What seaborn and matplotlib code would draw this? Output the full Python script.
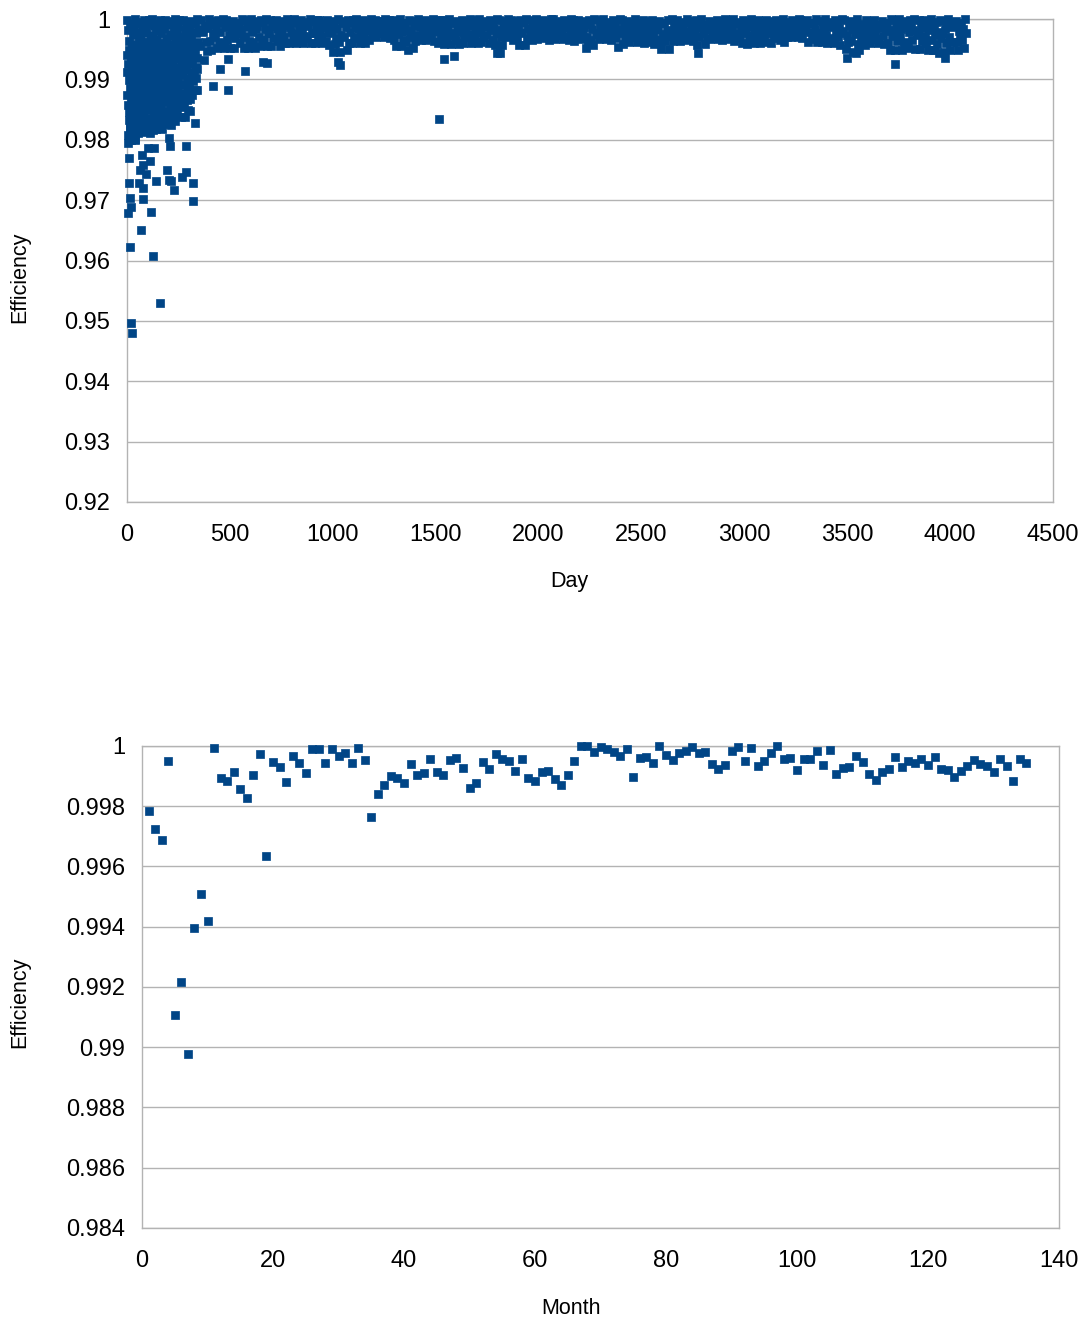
import numpy as np
import pandas as pd
import matplotlib
matplotlib.use('Agg')
import matplotlib.pyplot as plt
from matplotlib.ticker import FuncFormatter
import seaborn as sns

# ---------------- data ----------------
# Monthly efficiency, months 1..135 (bottom chart)
month_eff = [0.99783, 0.99723, 0.99689, 0.99950, 0.99107, 0.99216, 0.98978, 0.99396, 0.99510, 0.99420,
             0.99992, 0.99894, 0.99883, 0.99914, 0.99857, 0.99827, 0.99905, 0.99974, 0.99635, 0.99946,
             0.99929, 0.99880, 0.99968, 0.99945, 0.99909, 0.99989, 0.99989, 0.99945, 0.99990, 0.99967,
             0.99976, 0.99945, 0.99993, 0.99954, 0.99764, 0.99841, 0.99870, 0.99901, 0.99895, 0.99878,
             0.99941, 0.99904, 0.99909, 0.99957, 0.99915, 0.99904, 0.99953, 0.99961, 0.99928, 0.99860,
             0.99877, 0.99946, 0.99924, 0.99974, 0.99957, 0.99949, 0.99918, 0.99958, 0.99895, 0.99884,
             0.99914, 0.99916, 0.99889, 0.99870, 0.99903, 0.99951, 1.00000, 0.99999, 0.99981, 0.99998,
             0.99991, 0.99979, 0.99967, 0.99991, 0.99898, 0.99959, 0.99962, 0.99943, 0.99999, 0.99970,
             0.99954, 0.99978, 0.99984, 0.99996, 0.99978, 0.99980, 0.99941, 0.99924, 0.99936, 0.99984,
             0.99996, 0.99950, 0.99992, 0.99934, 0.99949, 0.99976, 1.00000, 0.99956, 0.99959, 0.99920,
             0.99958, 0.99956, 0.99984, 0.99938, 0.99987, 0.99908, 0.99928, 0.99929, 0.99967, 0.99946,
             0.99906, 0.99888, 0.99914, 0.99925, 0.99964, 0.99931, 0.99950, 0.99943, 0.99957, 0.99937,
             0.99962, 0.99923, 0.99919, 0.99898, 0.99917, 0.99934, 0.99954, 0.99939, 0.99935, 0.99913,
             0.99956, 0.99934, 0.99884, 0.99957, 0.99943]

# Daily efficiency (top chart), sampled: six days per 30-day block
band_offsets = [2, 7, 12, 17, 22, 27]
band_eff = [
    [0.9998, 0.9982, 0.9964, 0.9991, 0.9955, 0.9973],
    [0.9987, 1.0000, 0.9958, 0.9976, 0.9993, 0.9966],
    [0.9995, 0.9969, 0.9984, 0.9956, 0.9999, 0.9978],
    [0.9979, 0.9992, 0.9962, 0.9999, 0.9971, 0.9955],
    [1.0000, 0.9974, 0.9988, 0.9957, 0.9981, 0.9966],
    [0.9991, 0.9960, 0.9998, 0.9977, 0.9955, 0.9985],
    [0.9983, 0.9999, 0.9968, 0.9990, 0.9958, 0.9975],
    [0.9996, 0.9972, 0.9956, 0.9986, 1.0000, 0.9964],
    [0.9977, 0.9989, 0.9999, 0.9961, 0.9970, 0.9955],
    [0.9999, 0.9963, 0.9982, 0.9994, 0.9957, 0.9974],
    [0.9986, 0.9997, 0.9969, 0.9955, 0.9979, 0.9992],
    [0.9993, 0.9976, 1.0000, 0.9962, 0.9984, 0.9956],
    [0.9998, 0.9979, 0.9932, 0.9989, 0.9962, 0.9947],
    [0.9985, 1.0000, 0.9964, 0.9949, 0.9992, 0.9975],
    [0.9996, 0.9971, 0.9983, 0.9952, 0.9999, 0.9962],
    [0.9978, 0.9993, 0.9961, 1.0000, 0.9952, 0.9986],
    [0.9999, 0.9966, 0.9988, 0.9974, 0.9952, 0.9994],
    [0.9983, 0.9997, 0.9952, 0.9969, 0.9990, 0.9976],
    [0.9994, 0.9960, 0.9981, 1.0000, 0.9970, 0.9952],
    [0.9972, 0.9998, 0.9987, 0.9952, 0.9963, 0.9991],
    [1.0000, 0.9979, 0.9962, 0.9993, 0.9952, 0.9984],
    [0.9988, 0.9996, 0.9970, 0.9955, 0.9999, 0.9965],
    [0.9995, 0.9966, 0.9983, 1.0000, 0.9955, 0.9976],
    [0.9977, 0.9999, 0.9955, 0.9988, 0.9968, 0.9993],
    [0.9998, 0.9984, 0.9963, 0.9973, 0.9955, 0.9991],
    [0.9982, 0.9997, 0.9971, 0.9960, 0.9990, 1.0000],
    [0.9993, 0.9960, 0.9986, 0.9978, 0.9999, 0.9969],
    [1.0000, 0.9975, 0.9960, 0.9994, 0.9967, 0.9984],
    [0.9987, 0.9999, 0.9979, 0.9960, 0.9972, 0.9992],
    [0.9995, 0.9968, 0.9989, 1.0000, 0.9960, 0.9977],
    [0.9976, 0.9996, 0.9960, 0.9985, 0.9998, 0.9969],
    [0.9999, 0.9981, 0.9971, 0.9960, 0.9991, 0.9986],
    [0.9990, 0.9963, 0.9998, 0.9976, 0.9957, 0.9984],
    [0.9997, 0.9978, 0.9945, 0.9989, 0.9958, 0.9968],
    [0.9983, 1.0000, 0.9962, 0.9945, 0.9974, 0.9993],
    [0.9996, 0.9970, 0.9987, 0.9949, 0.9999, 0.9960],
    [0.9979, 0.9994, 0.9960, 0.9999, 0.9971, 0.9987],
    [1.0000, 0.9968, 0.9983, 0.9992, 0.9960, 0.9976],
    [0.9988, 0.9998, 0.9972, 0.9960, 0.9995, 0.9981],
    [0.9994, 0.9965, 0.9989, 1.0000, 0.9975, 0.9983],
    [0.9984, 0.9999, 0.9970, 0.9991, 0.9977, 0.9996],
    [0.9997, 0.9978, 0.9988, 0.9970, 1.0000, 0.9983],
    [0.9975, 0.9993, 0.9999, 0.9969, 0.9986, 0.9980],
    [0.9998, 0.9966, 0.9984, 0.9955, 0.9992, 0.9975],
    [0.9986, 1.0000, 0.9955, 0.9978, 0.9965, 0.9994],
    [0.9993, 0.9962, 0.9982, 0.9949, 0.9999, 0.9971],
    [0.9979, 0.9997, 0.9952, 0.9988, 0.9963, 0.9974],
    [1.0000, 0.9972, 0.9986, 0.9965, 0.9994, 0.9979],
    [0.9989, 0.9998, 0.9965, 0.9977, 0.9983, 0.9993],
    [0.9995, 0.9971, 0.9990, 1.0000, 0.9964, 0.9982],
    [0.9978, 0.9996, 0.9960, 0.9985, 0.9999, 0.9969],
    [0.9999, 0.9976, 0.9959, 0.9991, 0.9968, 0.9985],
    [0.9983, 1.0000, 0.9972, 0.9959, 0.9994, 0.9977],
    [0.9997, 0.9965, 0.9988, 0.9979, 0.9959, 0.9992],
    [0.9986, 0.9998, 0.9960, 0.9970, 0.9982, 0.9995],
    [0.9994, 0.9974, 0.9989, 1.0000, 0.9960, 0.9968],
    [0.9975, 0.9999, 0.9967, 0.9984, 0.9993, 0.9960],
    [1.0000, 0.9979, 0.9962, 0.9990, 0.9971, 0.9986],
    [0.9988, 0.9996, 0.9973, 0.9960, 0.9999, 0.9981],
    [0.9993, 0.9966, 0.9985, 0.9957, 0.9977, 1.0000],
    [0.9981, 0.9998, 0.9944, 0.9970, 0.9957, 0.9990],
    [0.9997, 0.9982, 0.9970, 0.9993, 1.0000, 0.9976],
    [0.9985, 0.9999, 0.9973, 0.9965, 0.9991, 0.9980],
    [0.9996, 0.9968, 0.9987, 0.9957, 0.9999, 0.9976],
    [0.9978, 0.9994, 0.9957, 1.0000, 0.9967, 0.9985],
    [0.9999, 0.9974, 0.9983, 0.9965, 0.9992, 0.9978],
    [0.9989, 1.0000, 0.9967, 0.9981, 0.9975, 0.9995],
    [0.9993, 0.9977, 0.9998, 0.9969, 0.9986, 0.9982],
    [0.9976, 0.9995, 0.9965, 0.9988, 1.0000, 0.9972],
    [1.0000, 0.9980, 0.9967, 0.9993, 0.9974, 0.9987],
    [0.9984, 0.9997, 0.9978, 0.9967, 0.9999, 0.9990],
    [0.9995, 0.9971, 0.9986, 0.9965, 0.9978, 1.0000],
    [0.9979, 0.9999, 0.9964, 0.9991, 0.9972, 0.9983],
    [0.9998, 0.9975, 0.9989, 0.9967, 0.9994, 0.9981],
    [0.9986, 0.9996, 0.9952, 0.9971, 0.9962, 0.9999],
    [0.9992, 0.9966, 0.9983, 0.9957, 1.0000, 0.9975],
    [0.9977, 0.9998, 0.9967, 0.9988, 0.9980, 0.9994],
    [1.0000, 0.9982, 0.9973, 0.9967, 0.9991, 0.9986],
    [0.9988, 0.9995, 0.9965, 0.9979, 0.9999, 0.9972],
    [0.9994, 0.9969, 0.9984, 0.9954, 0.9976, 1.0000],
    [0.9980, 0.9999, 0.9959, 0.9990, 0.9968, 0.9986],
    [0.9997, 0.9977, 0.9962, 0.9993, 0.9971, 0.9983],
    [0.9985, 1.0000, 0.9970, 0.9962, 0.9989, 0.9978],
    [0.9993, 0.9966, 0.9987, 0.9999, 0.9960, 0.9974],
    [0.9976, 0.9996, 0.9962, 0.9984, 0.9992, 0.9969],
    [0.9999, 0.9973, 0.9959, 0.9988, 0.9967, 0.9981],
    [0.9987, 0.9997, 0.9962, 0.9950, 0.9994, 0.9975],
    [0.9994, 0.9964, 0.9981, 0.9999, 0.9950, 0.9972],
    [0.9978, 1.0000, 0.9964, 0.9989, 0.9970, 0.9985],
    [0.9998, 0.9975, 0.9986, 0.9964, 0.9993, 0.9980],
    [0.9984, 0.9995, 0.9970, 0.9965, 1.0000, 0.9979],
    [0.9996, 0.9969, 0.9988, 0.9976, 0.9964, 0.9991],
    [0.9981, 0.9999, 0.9957, 0.9944, 0.9970, 0.9987],
    [1.0000, 0.9976, 0.9990, 0.9959, 0.9983, 0.9968],
    [0.9989, 0.9997, 0.9967, 0.9981, 0.9994, 0.9975],
    [0.9993, 0.9972, 0.9985, 0.9999, 0.9967, 0.9978],
    [0.9977, 0.9996, 0.9965, 0.9989, 0.9973, 1.0000],
    [0.9999, 0.9981, 0.9970, 0.9967, 0.9992, 0.9985],
    [0.9986, 1.0000, 0.9964, 0.9976, 0.9995, 0.9972],
    [0.9992, 0.9968, 0.9983, 0.9960, 0.9998, 0.9976],
    [0.9979, 0.9995, 0.9959, 0.9986, 0.9969, 0.9990],
    [1.0000, 0.9974, 0.9988, 0.9960, 0.9982, 0.9967],
    [0.9987, 0.9998, 0.9971, 0.9960, 0.9993, 0.9978],
    [0.9994, 0.9965, 0.9985, 0.9999, 0.9962, 0.9976],
    [0.9976, 0.9997, 0.9960, 0.9989, 0.9970, 0.9983],
    [0.9999, 0.9979, 0.9968, 0.9991, 0.9965, 0.9986],
    [0.9984, 1.0000, 0.9962, 0.9975, 0.9993, 0.9970],
    [0.9995, 0.9978, 0.9989, 0.9970, 0.9999, 0.9983],
    [0.9981, 0.9996, 0.9973, 0.9986, 0.9970, 1.0000],
    [0.9998, 0.9976, 0.9969, 0.9992, 0.9982, 0.9987],
    [0.9986, 0.9999, 0.9962, 0.9979, 0.9994, 0.9970],
    [0.9993, 0.9967, 0.9984, 1.0000, 0.9962, 0.9976],
    [0.9977, 0.9997, 0.9971, 0.9962, 0.9989, 0.9983],
    [1.0000, 0.9973, 0.9960, 0.9987, 0.9968, 0.9993],
    [0.9988, 0.9995, 0.9966, 0.9960, 0.9999, 0.9979],
    [0.9994, 0.9970, 0.9985, 0.9957, 0.9977, 1.0000],
    [0.9980, 0.9998, 0.9950, 0.9973, 0.9962, 0.9989],
    [0.9997, 0.9964, 0.9984, 0.9946, 0.9993, 0.9975],
    [0.9985, 1.0000, 0.9958, 0.9949, 0.9979, 0.9970],
    [0.9992, 0.9974, 0.9988, 0.9957, 0.9999, 0.9966],
    [0.9978, 0.9996, 0.9960, 0.9983, 0.9970, 0.9991],
    [0.9999, 0.9977, 0.9967, 0.9990, 0.9960, 0.9985],
    [0.9986, 0.9997, 0.9972, 0.9959, 0.9994, 0.9980],
    [0.9993, 0.9961, 0.9982, 0.9949, 1.0000, 0.9972],
    [0.9975, 0.9998, 0.9949, 0.9986, 0.9963, 0.9979],
    [1.0000, 0.9970, 0.9984, 0.9949, 0.9992, 0.9960],
    [0.9987, 0.9996, 0.9962, 0.9952, 0.9978, 0.9999],
    [0.9994, 0.9966, 0.9981, 1.0000, 0.9950, 0.9973],
    [0.9979, 0.9999, 0.9950, 0.9988, 0.9964, 0.9985],
    [0.9998, 0.9972, 0.9960, 0.9993, 0.9949, 0.9981],
    [0.9983, 1.0000, 0.9965, 0.9949, 0.9989, 0.9974],
    [0.9995, 0.9958, 0.9978, 0.9944, 0.9999, 0.9968],
    [0.9977, 0.9997, 0.9946, 0.9984, 0.9960, 0.9990],
    [1.0000, 0.9971, 0.9949, 0.9986, 0.9962, 0.9993],
    [0.9988, 0.9996, 0.9962, 0.9949, 0.9980, 0.9972],
    [0.9993, 0.9966, 0.9983, 0.9952, 1.0000, 0.9976],
]

# First year, lower part of the cloud: 15-day blocks
early_eff = [
    [0.9941, 0.9874, 0.9912, 0.9808, 0.9926, 0.9858, 0.9795, 0.9899, 0.9832, 0.9949, 0.9846, 0.9886, 0.9820],
    [0.9903, 0.9947, 0.9827, 0.9868, 0.9931, 0.9799, 0.9881, 0.9916, 0.9841, 0.9954, 0.9812, 0.9894, 0.9855],
    [0.9936, 0.9849, 0.9908, 0.9823, 0.9951, 0.9871, 0.9802, 0.9893, 0.9920, 0.9836, 0.9862, 0.9884],
    [0.9914, 0.9952, 0.9833, 0.9878, 0.9938, 0.9811, 0.9866, 0.9925, 0.9846, 0.9897, 0.9822],
    [0.9944, 0.9856, 0.9905, 0.9818, 0.9929, 0.9875, 0.9890, 0.9838, 0.9955, 0.9864, 0.9917],
    [0.9921, 0.9845, 0.9950, 0.9882, 0.9813, 0.9908, 0.9869, 0.9934, 0.9828, 0.9894, 0.9857],
    [0.9939, 0.9871, 0.9826, 0.9912, 0.9953, 0.9849, 0.9887, 0.9815, 0.9926, 0.9861, 0.9900],
    [0.9910, 0.9948, 0.9836, 0.9877, 0.9931, 0.9812, 0.9893, 0.9852, 0.9920, 0.9866, 0.9824],
    [0.9943, 0.9864, 0.9902, 0.9827, 0.9918, 0.9881, 0.9816, 0.9934, 0.9850, 0.9956, 0.9890],
    [0.9925, 0.9840, 0.9951, 0.9873, 0.9905, 0.9818, 0.9886, 0.9937, 0.9858, 0.9913, 0.9830],
    [0.9947, 0.9868, 0.9915, 0.9821, 0.9932, 0.9884, 0.9845, 0.9899, 0.9955, 0.9860, 0.9875],
    [0.9912, 0.9853, 0.9940, 0.9879, 0.9817, 0.9926, 0.9896, 0.9835, 0.9952, 0.9867, 0.9905],
    [0.9936, 0.9862, 0.9903, 0.9826, 0.9949, 0.9887, 0.9842, 0.9919, 0.9874, 0.9930],
    [0.9915, 0.9950, 0.9848, 0.9893, 0.9829, 0.9934, 0.9870, 0.9906, 0.9857, 0.9942],
    [0.9945, 0.9881, 0.9824, 0.9921, 0.9866, 0.9898, 0.9839, 0.9954, 0.9910, 0.9853],
    [0.9927, 0.9859, 0.9951, 0.9890, 0.9831, 0.9913, 0.9874, 0.9938, 0.9845, 0.9902],
    [0.9948, 0.9883, 0.9919, 0.9842, 0.9935, 0.9867, 0.9904, 0.9856, 0.9955],
    [0.9911, 0.9940, 0.9861, 0.9893, 0.9838, 0.9926, 0.9877, 0.9950],
    [0.9937, 0.9872, 0.9908, 0.9854, 0.9953, 0.9890, 0.9922],
    [0.9918, 0.9952, 0.9866, 0.9901, 0.9936, 0.9881, 0.9850],
    [0.9944, 0.9889, 0.9925, 0.9868, 0.9910, 0.9956],
    [0.9929, 0.9874, 0.9950, 0.9897, 0.9912, 0.9940],
    [0.9946, 0.9903, 0.9921, 0.9883, 0.9935],
]

# Isolated low days
out_day = [18, 23, 160, 15, 125, 66, 6, 18, 15, 79,
           118, 322, 322, 287, 265, 228, 214, 193, 204, 141,
           76, 59, 11, 9, 71, 112, 79, 62, 90, 208,
           205, 287, 104, 133, 11, 23, 38, 15, 23, 79,
           127, 330, 76, 281, 306, 419, 492, 330, 339, 452,
           573, 492, 662, 679, 1034, 1026, 1516, 1540, 1589, 1798,
           3499, 3542, 3732, 3975, 3926]
out_eff = [0.9496, 0.9480, 0.9529, 0.9622, 0.9608, 0.9651, 0.9678, 0.9688, 0.9703, 0.9702,
           0.9680, 0.9699, 0.9728, 0.9746, 0.9739, 0.9716, 0.9731, 0.9750, 0.9733, 0.9732,
           0.9720, 0.9729, 0.9728, 0.9769, 0.9775, 0.9765, 0.9758, 0.9750, 0.9743, 0.9789,
           0.9803, 0.9789, 0.9787, 0.9787, 0.9800, 0.9805, 0.9800, 0.9819, 0.9833, 0.9819,
           0.9817, 0.9827, 0.9838, 0.9838, 0.9848, 0.9889, 0.9883, 0.9883, 0.9917, 0.9917,
           0.9914, 0.9933, 0.9928, 0.9927, 0.9924, 0.9929, 0.9835, 0.9934, 0.9939, 0.9944,
           0.9935, 0.9944, 0.9926, 0.9935, 0.9949]

day_ticks = [0, 500, 1000, 1500, 2000, 2500, 3000, 3500, 4000, 4500]
day_eff_ticks = [0.92, 0.93, 0.94, 0.95, 0.96, 0.97, 0.98, 0.99, 1.0]
month_ticks = [0, 20, 40, 60, 80, 100, 120, 140]
month_eff_ticks = [0.984, 0.986, 0.988, 0.99, 0.992, 0.994, 0.996, 0.998, 1.0]

# ---------------- build tables ----------------
days, effs = [], []
for i, row in enumerate(band_eff):
    for off, v in zip(band_offsets, row):
        days.append(30 * i + off)
        effs.append(v)
for i, row in enumerate(early_eff):
    for j, v in enumerate(row):
        days.append(15 * i + 15 * j / len(row))
        effs.append(v)
days += out_day
effs += out_eff
daily = pd.DataFrame({'Day': days, 'Efficiency': effs})
monthly = pd.DataFrame({'Month': np.arange(1, len(month_eff) + 1), 'Efficiency': month_eff})

# ---------------- plot ----------------
sns.set_theme(style='white')
plt.rcParams['font.family'] = ['Liberation Sans', 'DejaVu Sans']

blue = '#004586'
grey = '#b3b3b3'

fig = plt.figure(figsize=(10.9, 13.2), dpi=100)
ax1 = fig.add_axes([0.1165, 0.6197, 0.8495, 0.3659])
ax2 = fig.add_axes([0.1303, 0.0697, 0.8413, 0.3652])

sns.scatterplot(data=daily, x='Day', y='Efficiency', ax=ax1, marker='s', s=40,
                color=blue, edgecolor=blue, linewidth=0.5, clip_on=False, zorder=3)
sns.scatterplot(data=monthly, x='Month', y='Efficiency', ax=ax2, marker='s', s=40,
                color=blue, edgecolor=blue, linewidth=0.5, clip_on=False, zorder=3)

setup = [(ax1, day_ticks, day_eff_ticks, 'Day', (0.4773, -0.1656), (-0.1156, 0.466)),
         (ax2, month_ticks, month_eff_ticks, 'Month', (0.4678, -0.166), (-0.133, 0.469))]
for ax, xt, yt, xl, xpos, ypos in setup:
    ax.set_xlim(xt[0], xt[-1])
    ax.set_ylim(yt[0], yt[-1])
    ax.set_xticks(xt)
    ax.set_yticks(yt)
    ax.yaxis.set_major_formatter(FuncFormatter(lambda v, _: f'{v:g}'))
    ax.set_axisbelow(True)
    ax.yaxis.grid(True, color=grey, linewidth=1.0)
    ax.xaxis.grid(False)
    for sp in ax.spines.values():
        sp.set_visible(True)
        sp.set_color(grey)
        sp.set_linewidth(1.0)
    ax.tick_params(axis='both', direction='out', length=6, width=1, color=grey,
                   labelsize=17, labelcolor='black')
    ax.tick_params(axis='x', pad=10)
    ax.tick_params(axis='y', pad=6)
    ax.set_xlabel(xl, fontsize=15.5, color='black', va='center')
    ax.set_ylabel('Efficiency', fontsize=15.5, color='black', va='center')
    ax.xaxis.set_label_coords(*xpos)
    ax.yaxis.set_label_coords(*ypos)

fig.savefig('out.png', dpi=100)
